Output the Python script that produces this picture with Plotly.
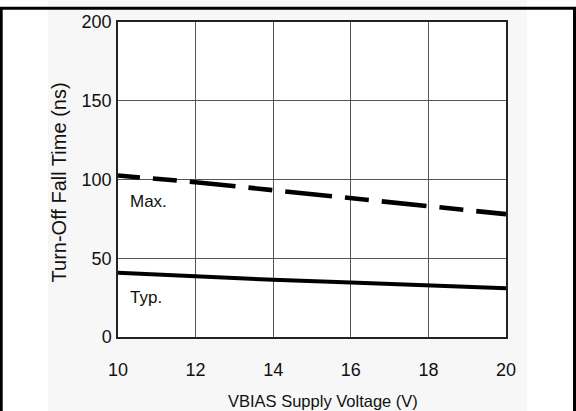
import plotly.graph_objects as go

# ---- data ----
voltage = [10, 12, 14, 16, 18, 20]
max_ns = [102.5, 98.3, 93.2, 88.3, 83.5, 78.0]
typ_ns = [40.8, 38.4, 36.3, 34.6, 33.1, 31.0]
x_ticks = [10, 12, 14, 16, 18, 20]
y_ticks = [0, 50, 100, 150, 200]
x_title = "VBIAS Supply Voltage (V)"
y_title = "Turn-Off Fall Time (ns)"
label_max = "Max."
label_typ = "Typ."

REG = "Liberation Sans, Arial, sans-serif"
DASH = "22px,13px,24px,13px,46px,13px,24px,13px,47px,13px,24px,13px,45px,13px,24px,13px,30px"

W, H = 576, 411
ML, MR, MT, MB = 118, 70, 17, 74
PW, PH = W - ML - MR, H - MT - MB


def px_to_paper_x(px):
    return (px - ML) / PW


def px_to_paper_y(py):
    return (H - MB - py) / PH


fig = go.Figure()
fig.add_trace(go.Scatter(x=voltage, y=max_ns, mode="lines",
                         line=dict(color="black", width=4.6, dash=DASH),
                         showlegend=False, hoverinfo="skip"))
fig.add_trace(go.Scatter(x=voltage, y=typ_ns, mode="lines",
                         line=dict(color="black", width=4),
                         showlegend=False, hoverinfo="skip"))

fig.add_annotation(x=10.25, y=86, xref="x", yref="y", text=label_max, showarrow=False,
                   xanchor="left", yanchor="middle", font=dict(family=REG, size=17, color="#111"))
fig.add_annotation(x=10.25, y=25.3, xref="x", yref="y", text=label_typ, showarrow=False,
                   xanchor="left", yanchor="middle", font=dict(family=REG, size=17, color="#111"))

# axis titles
fig.add_annotation(x=px_to_paper_x(322.5), y=px_to_paper_y(402), xref="paper", yref="paper",
                   text=x_title, showarrow=False, xanchor="center", yanchor="middle",
                   font=dict(family=REG, size=16.5, color="#111"))
fig.add_annotation(x=px_to_paper_x(59), y=px_to_paper_y(180), xref="paper", yref="paper",
                   text=y_title, showarrow=False, textangle=-90, xanchor="center", yanchor="middle",
                   font=dict(family=REG, size=20, color="#111"))

# light grey background band and outer frame
fig.add_shape(type="rect", xref="paper", yref="paper",
              x0=px_to_paper_x(-5), x1=px_to_paper_x(48), y0=px_to_paper_y(420), y1=px_to_paper_y(-5),
              fillcolor="white", line_width=0, layer="below")
fig.add_shape(type="rect", xref="paper", yref="paper",
              x0=px_to_paper_x(527), x1=px_to_paper_x(581), y0=px_to_paper_y(420), y1=px_to_paper_y(-5),
              fillcolor="white", line_width=0, layer="below")
fig.add_shape(type="rect", xref="paper", yref="paper",
              x0=px_to_paper_x(1.2), x1=px_to_paper_x(574.5), y0=px_to_paper_y(430), y1=px_to_paper_y(3),
              fillcolor="rgba(0,0,0,0)", line=dict(color="black", width=3), layer="above")

fig.update_xaxes(range=[10, 20], tickvals=x_ticks, ticktext=[str(v) for v in x_ticks],
                 showgrid=True, gridcolor="#555", gridwidth=1,
                 showline=True, mirror=True, linecolor="#222", linewidth=1.5,
                 ticks="", zeroline=False, ticklabelstandoff=16,
                 tickfont=dict(family=REG, size=18, color="#111"))
fig.update_yaxes(range=[0, 200], tickvals=y_ticks, ticktext=[str(v) for v in y_ticks],
                 showgrid=True, gridcolor="#555", gridwidth=1,
                 showline=True, mirror=True, linecolor="#222", linewidth=1.5,
                 ticks="", zeroline=False, ticklabelstandoff=1,
                 tickfont=dict(family=REG, size=18, color="#111"))

fig.update_layout(width=W, height=H, margin=dict(l=ML, r=MR, t=MT, b=MB),
                  paper_bgcolor="#f7f7f7", plot_bgcolor="white", showlegend=False)

fig.write_html("out.html")
